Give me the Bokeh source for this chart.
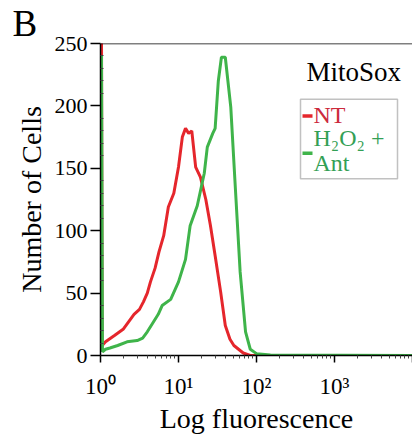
from bokeh.plotting import figure
from bokeh.models import FixedTicker, Label, BoxAnnotation, Range1d, Title, Span
from bokeh.embed import file_html
from bokeh.resources import INLINE

# ---- data ----
nt_fluor = [1.03, 1.05, 1.16, 1.51, 1.95, 2.29, 2.69, 3.16, 3.55, 3.98, 4.37, 5.01, 5.62,
            6.46, 7.41, 8.71, 10.0, 11.2, 12.3, 13.5, 14.8, 16.6, 19.1, 22.4, 25.7, 29.5,
            34.7, 39.8, 45.7, 51.3, 67.6, 83.2, 316.0, 10000.0]
nt_counts = [260, 8, 11, 16, 21, 27, 33, 37, 43, 50, 59, 70, 83,
             96, 119, 130, 151, 175, 182, 178, 180, 151, 143, 125, 104, 80,
             51, 24, 13, 8, 2, 0, 0, 0]

trt_fluor = [1.03, 1.06, 1.16, 1.32, 1.66, 2.19, 2.95, 3.47, 3.98, 4.79, 5.50, 6.17, 7.94,
             10.0, 12.3, 14.1, 17.4, 21.4, 23.4, 27.5, 29.5, 32.4, 35.5, 39.8, 46.8, 53.7,
             61.7, 72.4, 83.2, 100.0, 151.0, 10000.0]
trt_counts = [240, 3, 5, 6, 8, 11, 12, 14, 19, 27, 33, 40, 45,
              59, 77, 104, 120, 146, 167, 178, 182, 220, 239, 239, 199, 133,
              67, 19, 5, 1.5, 0.5, 0]

x_major = [1, 10, 100, 1000, 10000]
x_labels = {1: "10⁰", 10: "10¹", 100: "10²", 1000: "10³", 10000: ""}
y_major = [0, 50, 100, 150, 200, 250]

RED = "#e5262c"
GREEN = "#3fb44a"
FONT = "Liberation Serif"

p = figure(width=412, height=436, x_axis_type="log",
           x_range=Range1d(1, 10000), y_range=Range1d(0, 250),
           output_backend="svg", toolbar_location=None,
           min_border_left=100, min_border_right=0, min_border_top=43, min_border_bottom=79)
p.grid.visible = False
p.outline_line_color = None
p.background_fill_color = "white"

p.title = Title(text="B", align="left", offset=-88, standoff=0,
                text_font=FONT, text_font_size="37px", text_font_style="normal",
                text_color="black")

p.line(nt_fluor, nt_counts, line_color=RED, line_width=3)
p.line(trt_fluor, trt_counts, line_color=GREEN, line_width=3)

# x axis
xa = p.xaxis[0]
xa.ticker = FixedTicker(ticks=x_major,
                        minor_ticks=[m * 10 ** d for d in range(4) for m in range(2, 10)])
xa.major_label_overrides = x_labels
xa.axis_label = "Log fluorescence"
xa.major_tick_out = 7
xa.major_tick_in = 0
xa.minor_tick_out = 3
xa.minor_tick_in = 0
xa.major_label_standoff = 11
xa.axis_label_standoff = 1

# y axis
ya = p.yaxis[0]
ya.ticker = FixedTicker(ticks=y_major,
                        minor_ticks=[v for v in range(0, 251, 10) if v % 50])
ya.axis_label = "Number of Cells"
ya.major_tick_out = 10
ya.major_tick_in = 0
ya.minor_tick_out = 0
ya.minor_tick_in = 3
ya.major_label_standoff = 3
ya.axis_label_standoff = 5

for ax in (xa, ya):
    ax.axis_line_width = 1.5
    ax.major_tick_line_width = 1.5
    ax.minor_tick_line_width = 1
    ax.axis_line_color = "black"
    ax.major_tick_line_color = "black"
    ax.minor_tick_line_color = "#444444"
    ax.major_label_text_font = FONT
    ax.axis_label_text_font = FONT
    ax.axis_label_text_font_style = "normal"
    ax.axis_label_text_font_size = "28px"
    ax.major_label_text_color = "black"
    ax.axis_label_text_color = "black"
xa.major_label_text_font_size = "23px"
ya.major_label_text_font_size = "22px"

# top border line
p.add_layout(Span(location=250, dimension="width", line_color="black", line_width=1.5))

def lx(px):
    return 10 ** ((px - 100) / 78.0)

def ly(py):
    return (357 - py) / 1.256

p.add_layout(Label(x=lx(306), y=ly(72), text="MitoSox", text_font=FONT, text_font_size="27px",
                   text_baseline="middle", text_color="black"))

# legend
p.add_layout(BoxAnnotation(left=lx(300), right=lx(397), top=ly(99), bottom=ly(179),
                           fill_color="white", fill_alpha=1, line_color="#333333",
                           line_width=1.5, level="overlay"))
p.add_layout(BoxAnnotation(left=lx(302), right=lx(312), top=ly(114.3), bottom=ly(117.7),
                           fill_color=RED, fill_alpha=1, line_color=None, level="overlay"))
p.add_layout(BoxAnnotation(left=lx(302), right=lx(312), top=ly(151.8), bottom=ly(155.2),
                           fill_color=GREEN, fill_alpha=1, line_color=None, level="overlay"))
p.add_layout(Label(x=lx(313), y=ly(115), text="NT", text_font=FONT, text_font_size="24px",
                   text_baseline="middle", text_color="#cc2a3c", level="overlay"))
p.add_layout(Label(x=lx(313), y=ly(138), text="H₂O₂ +", text_font=FONT, text_font_size="24px",
                   text_baseline="middle", text_color="#33a055", level="overlay"))
p.add_layout(Label(x=lx(313), y=ly(163), text="Ant", text_font=FONT, text_font_size="24px",
                   text_baseline="middle", text_color="#33a055", level="overlay"))

open("out.html", "w").write(file_html(p, INLINE))
